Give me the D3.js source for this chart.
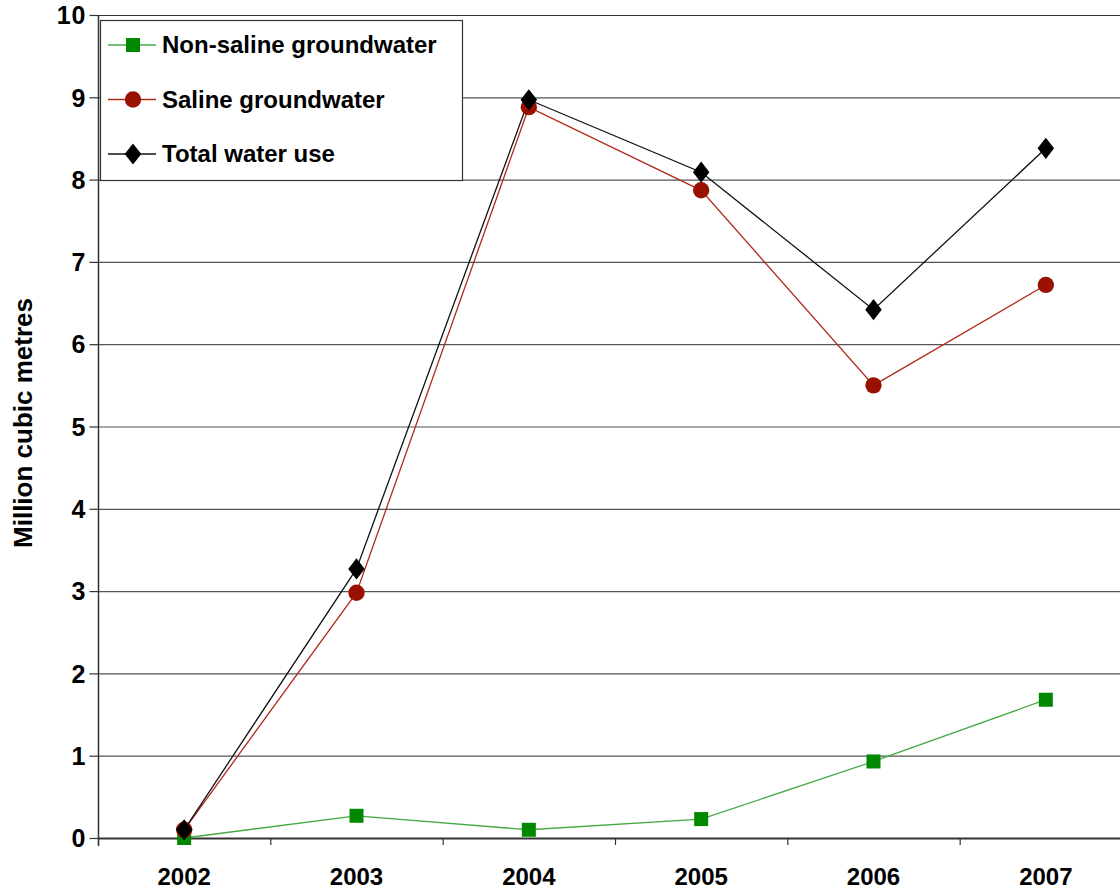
<!DOCTYPE html>
<html>
<head>
<meta charset="utf-8">
<script src="https://cdn.jsdelivr.net/npm/d3@7"></script>
<style>
  body { margin: 0; background: #fff; }
  text { font-family: "Liberation Sans", Arial, sans-serif; font-weight: bold; }
</style>
</head>
<body>
<div id="chart"></div>
<script>
// data
var years = ["2002", "2003", "2004", "2005", "2006", "2007"];
var nonSaline = [0.0, 0.27, 0.1, 0.23, 0.93, 1.68];
var saline = [0.1, 2.98, 8.88, 7.87, 5.5, 6.72];
var total = [0.1, 3.27, 8.97, 8.09, 6.42, 8.38];
var yTicks = [0, 1, 2, 3, 4, 5, 6, 7, 8, 9, 10];

var chart_width = 1120;
var chart_height = 890;
var plot_left = 98, plot_top = 15, plot_bottom = 838, plot_right = 1132;

var svg = d3.select("#chart")
            .append("svg")
            .attr("width", chart_width)
            .attr("height", chart_height);

var x = d3.scaleBand().domain(years).range([plot_left, plot_right]);
var y = d3.scaleLinear().domain([0, 10]).range([plot_bottom, plot_top]);

// gridlines
svg.append("g")
   .selectAll("line")
   .data(yTicks.filter(function(d){ return d > 0; }))
   .enter()
   .append("line")
   .attr("x1", plot_left).attr("x2", chart_width)
   .attr("y1", function(d){ return y(d) + 0.5; })
   .attr("y2", function(d){ return y(d) + 0.5; })
   .attr("stroke", function(d){ return d == 10 ? "#333" : "#555"; })
   .attr("stroke-width", 1.2);

// y axis
var yAxis = d3.axisLeft(y).tickValues(yTicks).tickSize(9).tickPadding(3).tickFormat(d3.format("d"));
var gy = svg.append("g")
   .attr("transform", "translate(" + (plot_left + 0.5) + ",0)")
   .call(yAxis);
gy.select(".domain").attr("stroke", "#333").attr("stroke-width", 1.5).attr("d", "M0," + plot_top + "V" + (plot_bottom + 8));
gy.selectAll(".tick line").attr("stroke", "#333").attr("stroke-width", 1.2);
gy.selectAll(".tick text")
  .attr("font-size", 25)
  .attr("font-family", "'Liberation Sans', Arial, sans-serif")
  .attr("font-weight", "bold")
  .attr("fill", "#000")
  .attr("letter-spacing", 1)
  .attr("dy", "0.35em");

// x axis
var boundaries = years.map(function(d){ return x(d); });
var gx = svg.append("g");
gx.append("line")
  .attr("x1", plot_left).attr("x2", chart_width)
  .attr("y1", plot_bottom + 0.5).attr("y2", plot_bottom + 0.5)
  .attr("stroke", "#333").attr("stroke-width", 2);
gx.selectAll(".xt")
  .data(boundaries)
  .enter()
  .append("line")
  .attr("x1", function(d){ return d + 0.5; })
  .attr("x2", function(d){ return d + 0.5; })
  .attr("y1", plot_bottom).attr("y2", plot_bottom + 7)
  .attr("stroke", "#333").attr("stroke-width", 1.2);
gx.selectAll("text")
  .data(years)
  .enter()
  .append("text")
  .attr("x", function(d){ return x(d) + x.bandwidth() / 2; })
  .attr("y", 885)
  .attr("text-anchor", "middle")
  .attr("font-size", 24)
  .text(function(d){ return d; });

// y label
svg.append("text")
   .attr("transform", "translate(32,423) rotate(-90)")
   .attr("text-anchor", "middle")
   .attr("font-size", 26)
   .text("Million cubic metres");

var cx = function(i){ return x(years[i]) + x.bandwidth() / 2; };

var series = [
  { name: "Non-saline groundwater", values: nonSaline, line: "#44aa44", fill: "#008800", shape: d3.symbolSquare, size: 196 },
  { name: "Saline groundwater", values: saline, line: "#b02a1a", fill: "#991100", shape: d3.symbolCircle, size: 210 },
  { name: "Total water use", values: total, line: "#111", fill: "#000", shape: d3.symbolDiamond, size: 130 }
];

var line = d3.line()
  .x(function(d, i){ return cx(i); })
  .y(function(d){ return y(d); });

series.forEach(function(s){
  svg.append("path")
     .attr("d", line(s.values))
     .attr("fill", "none")
     .attr("stroke", s.line)
     .attr("stroke-width", 1.3);
});

// diamonds in the reference are squat, so scale the symbol
var markerTransform = function(s, px, py){
  var t = "translate(" + px + "," + py + ")";
  if (s.shape === d3.symbolDiamond) t += " scale(1.35,1)";
  return t;
};

series.forEach(function(s){
  svg.append("g")
     .selectAll("path")
     .data(s.values)
     .enter()
     .append("path")
     .attr("d", d3.symbol().type(s.shape).size(s.size))
     .attr("transform", function(d, i){ return markerTransform(s, cx(i), y(d)); })
     .attr("fill", s.fill);
});

// legend
var legend = svg.append("g");
legend.append("rect")
      .attr("x", 100.5).attr("y", 20.5)
      .attr("width", 362).attr("height", 160)
      .attr("fill", "#fff")
      .attr("stroke", "#333")
      .attr("stroke-width", 1.2);

series.forEach(function(s, i){
  var ly = 45 + i * 54.5;
  legend.append("line")
        .attr("x1", 108).attr("x2", 156)
        .attr("y1", ly).attr("y2", ly)
        .attr("stroke", s.line).attr("stroke-width", 1.3);
  legend.append("path")
        .attr("d", d3.symbol().type(s.shape).size(s.size))
        .attr("transform", markerTransform(s, 133, ly))
        .attr("fill", s.fill);
  legend.append("text")
        .attr("x", 162).attr("y", ly + 8)
        .attr("font-size", 24)
        .text(s.name);
});
</script>
</body>
</html>
